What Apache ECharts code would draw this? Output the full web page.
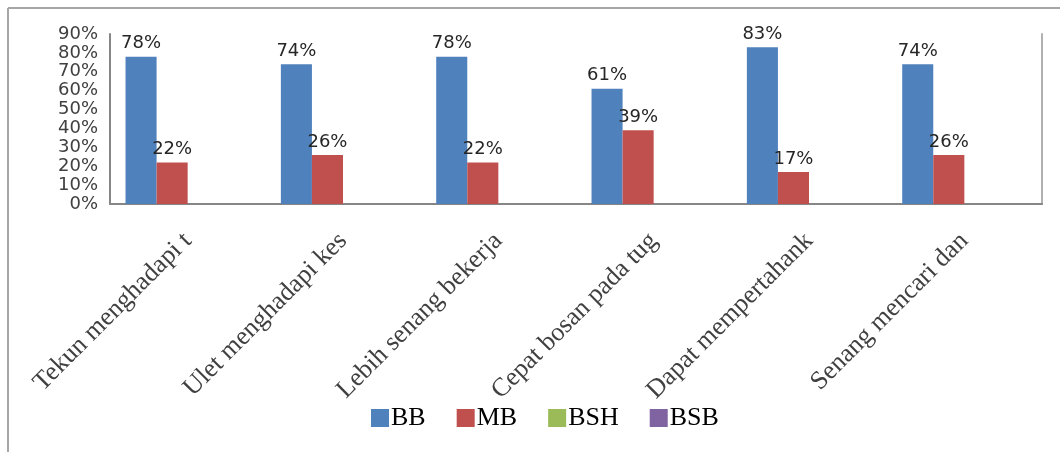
<!DOCTYPE html>
<html>
<head>
<meta charset="utf-8">
<script src="https://cdn.jsdelivr.net/npm/echarts@6/dist/echarts.min.js"></script>
<style>
html,body{margin:0;padding:0;background:#fff;}
#c{width:1060px;height:452px;}
</style>
</head>
<body>
<div id="c"></div>
<script>
var categories = ["Tekun menghadapi t", "Ulet menghadapi kes", "Lebih senang bekerja", "Cepat bosan pada tug", "Dapat mempertahank", "Senang mencari dan"];
var seriesNames = ["BB", "MB", "BSH", "BSB"];
var bbValues = [78, 74, 78, 61, 83, 74];
var mbValues = [22, 26, 22, 39, 17, 26];
var bshValues = [null, null, null, null, null, null];
var bsbValues = [null, null, null, null, null, null];
var yTicks = [0, 10, 20, 30, 40, 50, 60, 70, 80, 90];

var colors = ["#4F81BD", "#C0504D", "#9BBB59", "#8064A2"];
var chart = echarts.init(document.getElementById('c'));
var labelStyle = {
  show: true, position: 'top', distance: 4,
  fontFamily: 'DejaVu Sans', fontSize: 18, color: '#262626',
  formatter: function (p) { return p.value + '%'; }
};
function mk(name, data, color, withLabel) {
  return {
    name: name, type: 'bar', data: data, barGap: '0%', barCategoryGap: '20%',
    itemStyle: { color: color },
    label: withLabel ? labelStyle : { show: false },
    emphasis: { disabled: true }
  };
}
chart.setOption({
  animation: false,
  color: colors,
  graphic: [
    { type: 'line', shape: { x1: 8, y1: 8, x2: 1060, y2: 8 }, style: { stroke: '#a6a6a6', lineWidth: 2 } },
    { type: 'line', shape: { x1: 8, y1: 8, x2: 8, y2: 452 }, style: { stroke: '#a6a6a6', lineWidth: 2 } }
  ],
  grid: { left: 110, right: 18, top: 34, bottom: 248, containLabel: false },
  legend: {
    data: seriesNames, left: 366, top: 400, itemWidth: 18, itemHeight: 18,
    itemGap: 31, icon: 'rect',
    textStyle: { fontFamily: 'Liberation Serif', fontSize: 26, color: '#000', padding: [0, 0, 0, -3] }
  },
  xAxis: {
    type: 'category', data: categories,
    axisLine: { show: true, lineStyle: { color: '#868686', width: 2 } },
    axisTick: { show: false },
    axisLabel: { rotate: 45, margin: 33, interval: 0, fontFamily: 'Liberation Serif', fontSize: 26, color: '#404040' }
  },
  yAxis: [{
    type: 'value', min: 0, max: 90, interval: 10,
    axisLine: { show: true, lineStyle: { color: '#868686', width: 2 } },
    axisTick: { show: false },
    splitLine: { show: false },
    axisLabel: {
      margin: 12, fontFamily: 'DejaVu Sans', fontSize: 18, color: '#404040',
      formatter: function (v) { return yTicks.indexOf(v) >= 0 ? v + '%' : ''; }
    }
  }, {
    type: 'value', min: 0, max: 90, interval: 10, position: 'right',
    axisLine: { show: true, lineStyle: { color: '#b0b0b0', width: 2 } },
    axisTick: { show: false }, splitLine: { show: false }, axisLabel: { show: false }
  }],
  series: [
    mk(seriesNames[0], bbValues, colors[0], true),
    mk(seriesNames[1], mbValues, colors[1], true),
    mk(seriesNames[2], bshValues, colors[2], false),
    mk(seriesNames[3], bsbValues, colors[3], false)
  ]
});
</script>
</body>
</html>
